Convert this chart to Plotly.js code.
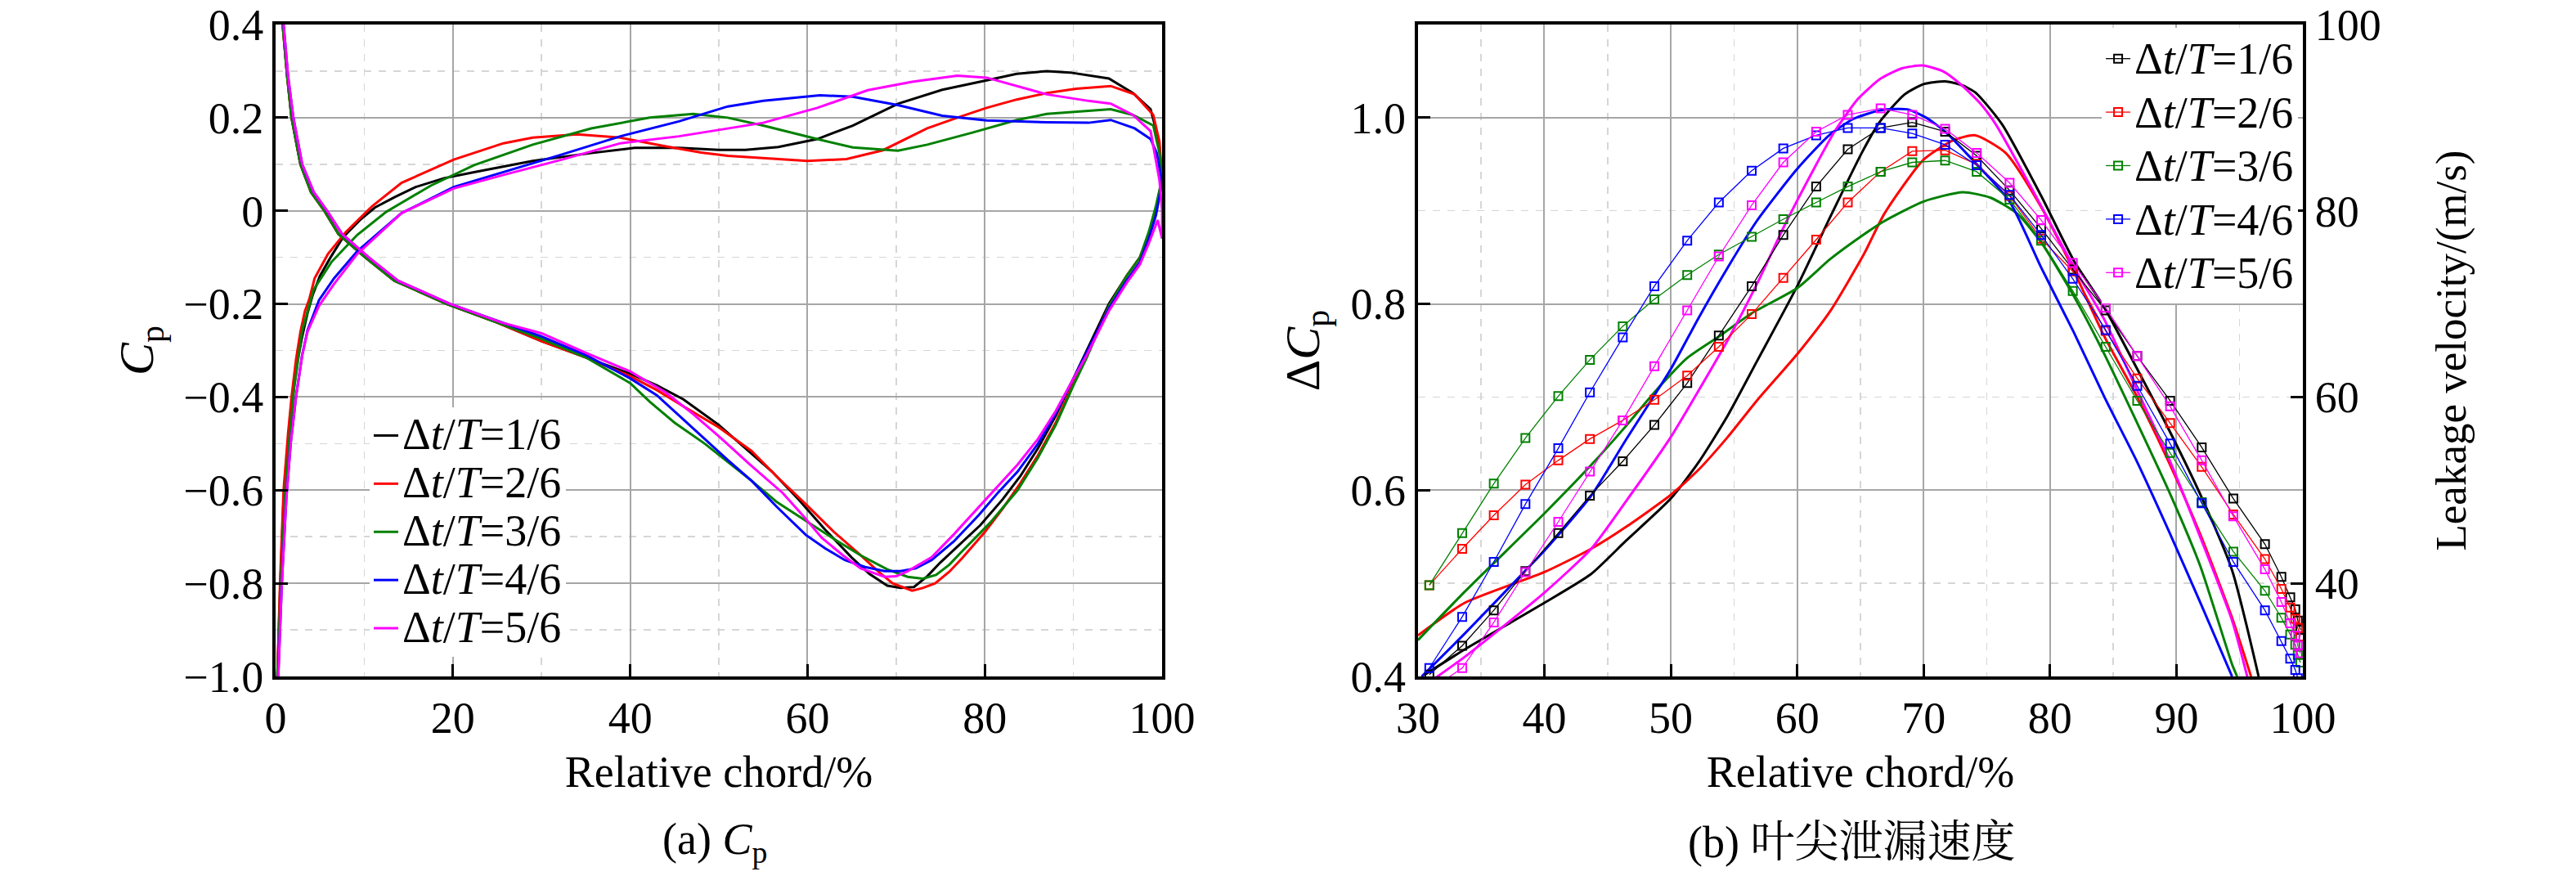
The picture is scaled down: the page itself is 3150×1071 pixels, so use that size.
<!DOCTYPE html>
<html>
<head>
<meta charset="utf-8">
<script src="https://cdn.plot.ly/plotly-3.0.1.min.js"></script>
<style>html,body{margin:0;padding:0;background:#fff;}#chart{width:3150px;height:1071px;}</style>
</head>
<body>
<div id="chart"></div>
<script>
// ---------------- Data: (a) Cp distributions ----------------
const seriesNames = ["Δ<i>t</i>/<i>T</i>=1/6","Δ<i>t</i>/<i>T</i>=2/6","Δ<i>t</i>/<i>T</i>=3/6","Δ<i>t</i>/<i>T</i>=4/6","Δ<i>t</i>/<i>T</i>=5/6"];
const seriesColors = ["#000000","#ff0000","#008000","#0000ff","#ff00ff"];

// leading-edge part of side A (curve starting above 0.4 at LE)
const leX  = [0.5, 0.8, 1.3, 1.8, 2.8, 4, 5.5, 7.1, 10.1, 13.4, 19.3, 25];
const leXb = [0.6, 0.9, 1.4, 2.0, 3.0, 4.3, 5.8, 7.5, 10.5, 13.8, 19.7, 25.5];
const leCp = [0.45, 0.4, 0.29, 0.2, 0.1, 0.04, 0.0, -0.05, -0.1, -0.15, -0.2, -0.24];

// side A (curve falling to the minimum near 70 %)
const sideAX1 = [30,35,40,43,46,50,53,56,59,62,65,67,69,70.5,72,73.5,75,77,79.5,82,84,86,88,90,91.5,94,96,97.5,98.5,99.3,100];
const sideAY1 = [-0.28,-0.315,-0.35,-0.375,-0.405,-0.46,-0.51,-0.56,-0.62,-0.685,-0.745,-0.78,-0.805,-0.81,-0.808,-0.785,-0.755,-0.72,-0.675,-0.62,-0.57,-0.51,-0.44,-0.36,-0.3,-0.2,-0.14,-0.1,-0.05,0.0,0.07];
const sideAX2 = [30,35,40,43,46,50,53.7,56.5,59.8,63,66,68,69.6,71.8,73,74.4,76,77.5,80,82,84,86,88,90,91.5,94,96,97.5,98.5,99.3,100];
const sideAY2 = [-0.28,-0.315,-0.355,-0.385,-0.42,-0.465,-0.516,-0.57,-0.63,-0.69,-0.74,-0.775,-0.8,-0.816,-0.81,-0.8,-0.775,-0.745,-0.69,-0.64,-0.585,-0.525,-0.455,-0.37,-0.31,-0.205,-0.14,-0.1,-0.05,0.0,0.07];
const sideAX3 = [30,35,40,42.2,45,48.4,51,53.7,56.5,59.8,63,66,69,71.3,73,74.5,76,77.5,80.6,83.7,86,88,90,91.5,94,96,97.5,98.5,99.3,100];
const sideAY3 = [-0.275,-0.315,-0.37,-0.41,-0.455,-0.5,-0.54,-0.58,-0.625,-0.666,-0.705,-0.74,-0.77,-0.786,-0.79,-0.782,-0.76,-0.73,-0.67,-0.6,-0.53,-0.46,-0.375,-0.315,-0.205,-0.14,-0.1,-0.045,0.01,0.07];
const sideAX4 = [30,35,40,43,45.5,48.4,51,53.7,56.5,59.8,62,64.2,66.5,68.7,70.5,72.2,74,76.5,79.3,81.5,83.7,86,88,90,91.5,94,96,97.5,98.5,99.3,100];
const sideAY4 = [-0.27,-0.31,-0.36,-0.396,-0.44,-0.49,-0.535,-0.58,-0.635,-0.696,-0.725,-0.75,-0.765,-0.774,-0.774,-0.768,-0.75,-0.71,-0.654,-0.605,-0.56,-0.5,-0.435,-0.36,-0.305,-0.21,-0.15,-0.11,-0.06,-0.01,0.06];
const sideAX5 = [30,35,40,44,47,50.1,53.5,57.2,59.5,61.6,64,66,68.7,70,71.3,72.5,74,76.5,79.3,81.5,83.7,86,88,90,91.5,94,96,97.5,98.5,99.5,100];
const sideAY5 = [-0.263,-0.305,-0.345,-0.39,-0.435,-0.486,-0.545,-0.606,-0.655,-0.702,-0.74,-0.768,-0.786,-0.785,-0.774,-0.76,-0.744,-0.695,-0.636,-0.59,-0.545,-0.49,-0.43,-0.36,-0.31,-0.215,-0.155,-0.115,-0.07,-0.02,-0.06];

// side B (curve rising from -1.0 at LE to the upper plateau)
const sideBX1 = [0.2,0.5,0.9,1.4,1.9,2.4,3,3.6,4.2,5,6.2,7.6,9.5,11.2,13.5,15.8,19,22.4,29,35.6,40.5,45.5,50,53,56.7,61.1,65.1,70.2,75.2,80.2,83.6,87,89.6,94,96.7,98.7,99.6,100];
const sideBY1 = [-1.0,-0.82,-0.62,-0.5,-0.4,-0.33,-0.27,-0.22,-0.18,-0.14,-0.1,-0.057,-0.02,0.007,0.03,0.051,0.07,0.083,0.107,0.124,0.135,0.135,0.131,0.131,0.137,0.154,0.183,0.23,0.26,0.28,0.294,0.3,0.297,0.284,0.253,0.218,0.154,0.07];
const sideBX2 = [0.2,0.5,0.9,1.4,1.8,2.3,2.8,3.3,3.8,4.4,5.9,7.9,10.9,14.2,20.1,25.7,29,34,38.9,43.8,48,51,55,60,64.4,68.5,73.5,76.9,80.2,83.6,87,90.3,94.2,96.9,99,99.7,100];
const sideBY2 = [-1.0,-0.8,-0.6,-0.48,-0.4,-0.32,-0.26,-0.216,-0.19,-0.145,-0.093,-0.046,0.01,0.06,0.11,0.145,0.157,0.164,0.157,0.139,0.125,0.118,0.113,0.107,0.111,0.13,0.177,0.2,0.221,0.239,0.253,0.262,0.268,0.25,0.206,0.148,0.066];
const sideBX3 = [0.2,0.6,1.1,1.6,2.1,2.6,3,4.3,6.3,9.2,12.5,17.5,22.4,29,35.6,42.2,47.1,51,55,61.1,65.1,70.2,73.5,78.6,83.6,87,90.3,94.2,96.7,99,99.7,100];
const sideBY3 = [-1.0,-0.8,-0.6,-0.48,-0.38,-0.31,-0.257,-0.169,-0.11,-0.052,-0.002,0.054,0.098,0.142,0.177,0.2,0.208,0.2,0.183,0.154,0.136,0.129,0.142,0.168,0.195,0.208,0.212,0.218,0.206,0.183,0.124,0.07];
const sideBX4 = [0.3,0.7,1.2,1.7,2.3,3,3.6,4.9,6.6,9.2,14.2,20.1,25.7,32.3,38.9,45.5,51,55,61.4,65.1,70.2,75.2,80.2,87,91.7,94.2,96.9,98.7,99.4,100];
const sideBY4 = [-1.0,-0.8,-0.62,-0.5,-0.4,-0.31,-0.257,-0.192,-0.145,-0.087,-0.005,0.051,0.083,0.121,0.16,0.192,0.224,0.236,0.248,0.245,0.227,0.204,0.194,0.19,0.189,0.195,0.177,0.154,0.124,0.06];
const sideBX5 = [0.3,0.7,1.2,1.7,2.3,3,3.6,4.9,6.6,9.2,14.2,20.1,25.7,32.3,38.9,45.5,51,55,61.1,66.8,71.8,76.9,80.2,83.6,87,91.7,94.2,96.7,98.7,99.7,100];
const sideBY5 = [-1.0,-0.8,-0.62,-0.5,-0.4,-0.31,-0.26,-0.204,-0.157,-0.093,-0.005,0.048,0.077,0.11,0.145,0.16,0.177,0.189,0.221,0.259,0.277,0.29,0.286,0.268,0.25,0.236,0.23,0.206,0.171,0.066,0.0];

// ---------------- Data: (b) tip leakage ----------------
// Delta Cp curves (left axis)
const dcpX1 = [30.5,33.7,40,43.7,46.4,50,52.2,54.5,56.8,60,62.6,65.1,66.5,68.5,70,71.7,73,74.1,76.2,79.3,81.9,84.3,86.9,89.4,91.9,94.4,96.5];
const dcpY1 = [0.4016,0.429,0.479,0.51,0.545,0.591,0.63,0.68,0.738,0.819,0.893,0.962,0.995,1.025,1.036,1.039,1.035,1.027,0.993,0.916,0.846,0.796,0.73,0.665,0.595,0.514,0.40];
const dcpX2 = [30,33.7,40,43.7,46.4,50,52.2,54.5,56.8,60,62.6,65.3,66.9,70,72.4,74.1,76.5,79.3,81.9,84.3,86.9,89.4,91.9,94.4,95.9];
const dcpY2 = [0.444,0.479,0.512,0.537,0.56,0.595,0.622,0.657,0.696,0.746,0.792,0.854,0.897,0.955,0.976,0.981,0.962,0.904,0.835,0.765,0.70,0.63,0.552,0.463,0.40];
const dcpX3 = [30,33.7,40,43.7,46.4,48.7,51.3,53.8,56.4,60,62.6,65.1,66.9,70,73.1,75.3,77.4,79.3,81.9,84.3,86.9,89.4,91.9,94.4,94.8];
const dcpY3 = [0.439,0.491,0.575,0.627,0.668,0.705,0.742,0.765,0.79,0.817,0.848,0.873,0.889,0.91,0.92,0.914,0.897,0.866,0.808,0.746,0.672,0.599,0.518,0.413,0.40];
const dcpX4 = [30.3,33.7,38.6,40,43.7,46.4,50,52.2,54.5,56.8,60,62.6,64.5,66.6,68.7,70.2,71.7,73.5,76.8,79.3,81.9,84.3,86.9,89.4,91.9,94.4];
const dcpY4 = [0.40,0.446,0.515,0.535,0.594,0.653,0.73,0.785,0.839,0.889,0.945,0.982,0.999,1.008,1.009,1.0,0.985,0.96,0.91,0.839,0.769,0.70,0.63,0.556,0.479,0.40];
const dcpX5 = [30.5,33.7,40,43.7,46.4,50,52.2,54.5,56.8,59.1,61.4,63,64.8,66.6,68.3,69.9,71.5,73,74.5,75.7,77.5,79.3,81.9,84.3,86.9,89.4,91.9,94.4,95.6];
const dcpY5 = [0.39,0.421,0.49,0.537,0.587,0.657,0.707,0.761,0.821,0.887,0.947,0.986,1.02,1.042,1.053,1.056,1.05,1.035,1.015,0.993,0.95,0.905,0.839,0.783,0.707,0.634,0.549,0.46,0.40];

// Leakage velocity (right axis, m/s), sampled at the same chord stations
const velX  = [30.9,33.5,36.0,38.5,41.1,43.6,46.2,48.7,51.3,53.8,56.4,58.9,61.5,64.0,66.6,69.1,71.7,74.2,76.8,79.3,81.8,84.4,86.9,89.5,92.0,94.5,97.0,98.3,99.0,99.4,99.6,99.8];
const velY1 = [30.2,33.3,37.1,41.3,45.4,49.4,53.1,57.0,61.5,66.6,71.9,77.4,82.6,86.6,88.9,89.5,88.5,85.9,82.2,78.1,73.7,69.3,64.4,59.6,54.6,49.1,44.2,40.7,38.5,37.2,36.0,35.0];
const velY2 = [39.8,43.7,47.3,50.6,53.2,55.5,57.5,59.7,62.3,65.4,68.9,72.8,76.9,80.9,84.2,86.4,86.5,85.0,81.6,77.0,73.5,67.1,62.0,57.2,52.5,47.4,42.6,39.4,37.4,36.2,35.2,34.3];
const velY3 = [39.8,45.4,50.7,55.6,60.1,64.0,67.6,70.5,73.1,75.3,77.2,79.1,80.9,82.6,84.2,85.2,85.4,84.2,81.2,76.8,71.4,65.4,59.6,54.0,48.7,43.4,39.2,36.3,34.5,33.4,32.3,31.5];
const velY4 = [30.9,36.4,42.3,48.5,54.5,60.5,66.4,71.9,76.8,80.9,84.3,86.7,88.1,88.9,88.9,88.3,87.1,84.9,81.7,77.4,72.7,67.2,61.2,55.0,48.6,42.3,37.1,33.8,31.9,30.7,29.8,29.0];
const velY5 = [28.5,30.9,35.8,41.2,46.6,52.0,57.5,63.3,69.3,75.1,80.6,85.2,88.5,90.3,91.0,90.3,88.8,86.2,83.0,79.0,74.4,69.6,64.4,59.0,53.2,47.2,41.5,38.0,35.7,34.4,33.3,32.5];

// tick labels
const cpTickVals = [-1.0,-0.8,-0.6,-0.4,-0.2,0,0.2,0.4];
const cpTickText = ["−1.0","−0.8","−0.6","−0.4","−0.2","0","0.2","0.4"];
const dcpTickVals = [0.4,0.6,0.8,1.0];
const dcpTickText = ["0.4","0.6","0.8","1.0"];
const velTickVals = [40,60,80,100];
const chordTicksA = [0,20,40,60,80,100];
const chordTicksB = [30,40,50,60,70,80,90,100];

// ---------------- Build traces ----------------
const leXs = [leX, leX, leX, leXb, leXb];
const sideAX = [sideAX1,sideAX2,sideAX3,sideAX4,sideAX5];
const sideAY = [sideAY1,sideAY2,sideAY3,sideAY4,sideAY5];
const sideBX = [sideBX1,sideBX2,sideBX3,sideBX4,sideBX5];
const sideBY = [sideBY1,sideBY2,sideBY3,sideBY4,sideBY5];
const dcpX = [dcpX1,dcpX2,dcpX3,dcpX4,dcpX5];
const dcpY = [dcpY1,dcpY2,dcpY3,dcpY4,dcpY5];
const velY = [velY1,velY2,velY3,velY4,velY5];

const LEG_TXT = '<span style="font-size:54px">';
const traces = [];
for (let i = 0; i < 5; i++) {
  const x = leXs[i].concat(sideAX[i], sideBX[i].slice().reverse());
  const y = leCp.concat(sideAY[i], sideBY[i].slice().reverse());
  traces.push({type:'scatter', mode:'lines', x:x, y:y, xaxis:'x', yaxis:'y',
    name: LEG_TXT + seriesNames[i] + '</span>', legend:'legend',
    line:{color:seriesColors[i], width:3}});
}
for (let i = 0; i < 5; i++) {
  traces.push({type:'scatter', mode:'lines', x:dcpX[i], y:dcpY[i], xaxis:'x2', yaxis:'y3',
    showlegend:false, line:{color:seriesColors[i], width:3, shape:'spline', smoothing:0.6}});
}
for (let i = 0; i < 5; i++) {
  traces.push({type:'scatter', mode:'lines+markers', x:velX, y:velY[i], xaxis:'x2', yaxis:'y4',
    name: LEG_TXT + seriesNames[i] + '</span>', legend:'legend2',
    line:{color:seriesColors[i], width:1.3},
    marker:{symbol:'square-open', size:10, color:seriesColors[i], line:{width:2, color:seriesColors[i]}}});
}

const FONT = "Liberation Serif, Noto Serif CJK SC, Noto Sans CJK SC, serif";
const tickFont = {family:FONT, size:54, color:'#000'};
const gridMajor = '#a6a6a6';
const gridMinor = '#d6d6d6';

function xAxisCommon(extra){
  return Object.assign({
    showline:true, linecolor:'#000', linewidth:4, mirror:true,
    ticks:'inside', ticklen:15, tickwidth:3, tickcolor:'#000',
    showgrid:true, gridcolor:gridMajor, gridwidth:2,
    zeroline:false, tickfont:tickFont
  }, extra);
}

const layout = {
  width:3150, height:1071,
  margin:{l:337, r:334, t:30, b:244},
  paper_bgcolor:'#fff', plot_bgcolor:'#fff',
  font:{family:FONT, color:'#000'},
  xaxis: xAxisCommon({domain:[0,0.4373], range:[0,100], tickmode:'array', tickvals:chordTicksA,
    anchor:'y',
    minor:{dtick:10, tick0:0, showgrid:true, gridcolor:gridMinor, griddash:'dash', gridwidth:1.5, ticks:''},
    title:{text:'Relative chord/%', font:{family:FONT, size:54}, standoff:18}}),
  yaxis: {domain:[0,1], range:[-1,0.4], anchor:'x', tickmode:'array', tickvals:cpTickVals, ticktext:cpTickText,
    showline:true, linecolor:'#000', linewidth:4, mirror:true,
    ticks:'inside', ticklen:15, tickwidth:3, tickcolor:'#000',
    showgrid:true, gridcolor:gridMajor, gridwidth:2, zeroline:false, tickfont:tickFont,
    minor:{dtick:0.1, tick0:0, showgrid:true, gridcolor:gridMinor, griddash:'dash', gridwidth:1.5, ticks:''},
    title:{text:'<i>C</i><sub>p</sub>', font:{family:FONT, size:60}, standoff:18}},
  xaxis2: xAxisCommon({domain:[0.5635,1], range:[30,100], tickmode:'array', tickvals:chordTicksB,
    anchor:'y3',
    minor:{dtick:5, tick0:0, showgrid:true, gridcolor:gridMinor, griddash:'dash', gridwidth:1.5, ticks:''},
    title:{text:'Relative chord/%', font:{family:FONT, size:54}, standoff:18}}),
  yaxis3: {domain:[0,1], range:[0.4,1.1], anchor:'x2', tickmode:'array', tickvals:dcpTickVals, ticktext:dcpTickText,
    showline:true, linecolor:'#000', linewidth:4,
    ticks:'inside', ticklen:15, tickwidth:3, tickcolor:'#000',
    showgrid:true, gridcolor:gridMajor, gridwidth:2, zeroline:false, tickfont:tickFont,
    minor:{tickmode:'array', tickvals:[0.5,0.7,0.9], showgrid:true, gridcolor:gridMinor, griddash:'dash', gridwidth:1.5, ticks:''},
    title:{text:'Δ<i>C</i><sub>p</sub>', font:{family:FONT, size:60}, standoff:20}},
  yaxis4: {overlaying:'y3', side:'right', anchor:'x2', range:[30,100], tickmode:'array', tickvals:velTickVals,
    showline:true, linecolor:'#000', linewidth:4,
    ticks:'inside', ticklen:15, tickwidth:3, tickcolor:'#000',
    showgrid:false, zeroline:false, tickfont:tickFont,
    title:{text:'Leakage velocity/(m/s)', font:{family:FONT, size:53}, standoff:68}},
  legend: {x:0.0464, y:0.4128, xanchor:'left', yanchor:'top', bgcolor:'#fff', borderwidth:0,
    font:{family:FONT, size:43, color:'#000'}, tracegroupgap:0},
  legend2: {x:0.9008, y:0.995, xanchor:'left', yanchor:'top', bgcolor:'#fff', borderwidth:0,
    font:{family:FONT, size:48, color:'#000'}, tracegroupgap:0},
  annotations: [
    {xref:'paper', yref:'paper', x:0.2166, y:-0.2547, text:'(a) <i>C</i><sub>p</sub>', showarrow:false,
      font:{family:FONT, size:54, color:'#000'}, xanchor:'center', yanchor:'middle'},
    {xref:'paper', yref:'paper', x:0.7773, y:-0.2547, text:'(b) 叶尖泄漏速度', showarrow:false,
      font:{family:FONT, size:54, color:'#000'}, xanchor:'center', yanchor:'middle'}
  ],
  showlegend:true
};

Plotly.newPlot('chart', traces, layout, {displayModeBar:false, staticPlot:true});
</script>
</body>
</html>
